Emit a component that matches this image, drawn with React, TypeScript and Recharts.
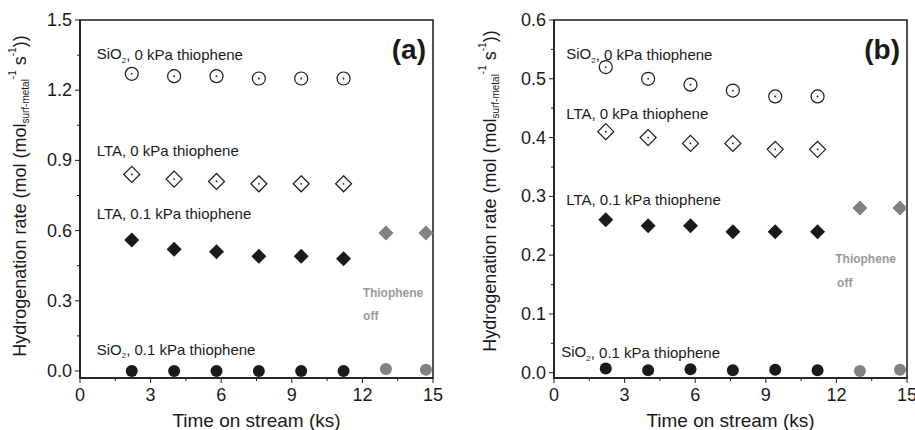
import { ScatterChart, Scatter, XAxis, YAxis, ReferenceArea } from 'recharts';

const FONT = '"Liberation Sans", Arial, sans-serif';
const INK = '#1a1a1a';
const GREY = '#828282';
const NOTE_GREY = '#9a9a9a';

// time on stream (ks)
const timeOn = [2.2, 4.0, 5.8, 7.6, 9.4, 11.2];
const timeOff = [13.0, 14.7];

// panel (a) rates
const aSio2Clean = [1.27, 1.26, 1.26, 1.25, 1.25, 1.25];
const aLtaClean = [0.84, 0.82, 0.81, 0.8, 0.8, 0.8];
const aLtaThio = [0.56, 0.52, 0.51, 0.49, 0.49, 0.48];
const aSio2Thio = [0, 0, 0, 0, 0, 0];
const aLtaOff = [0.59, 0.59];
const aSio2Off = [0.008, 0.005];

// panel (b) rates
const bSio2Clean = [0.52, 0.5, 0.49, 0.48, 0.47, 0.47];
const bLtaClean = [0.41, 0.4, 0.39, 0.39, 0.38, 0.38];
const bLtaThio = [0.26, 0.25, 0.25, 0.24, 0.24, 0.24];
const bSio2Thio = [0.007, 0.004, 0.006, 0.004, 0.005, 0.004];
const bLtaOff = [0.28, 0.28];
const bSio2Off = [0.003, 0.005];

// ticks
const xMajor = [0, 3, 6, 9, 12, 15];
const xMinor = [1.5, 4.5, 7.5, 10.5, 13.5];
const aYMajor = [0, 0.3, 0.6, 0.9, 1.2, 1.5];
const aYMinor = [0.15, 0.45, 0.75, 1.05, 1.35];
const bYMajor = [0, 0.1, 0.2, 0.3, 0.4, 0.5, 0.6];
const bYMinor = [0.05, 0.15, 0.25, 0.35, 0.45, 0.55];

// annotations
const noteText = ['SiO2, 0 kPa thiophene', 'LTA, 0 kPa thiophene', 'LTA, 0.1 kPa thiophene', 'SiO2, 0.1 kPa thiophene', 'Thiophene', 'off'];
const noteKind = ['note', 'note', 'note', 'note', 'off', 'off'];
const aNoteX = [0.71, 0.71, 0.71, 0.71, 12.01, 12.03];
const aNoteY = [1.355, 0.944, 0.675, 0.093, 0.335, 0.236];
const bNoteX = [0.52, 0.52, 0.52, 0.31, 11.95, 12.03];
const bNoteY = [0.543, 0.441, 0.294, 0.036, 0.193, 0.152];

const zip = (xs: number[], ys: number[]) => xs.map((x, i) => ({ x, y: ys[i] }));
const notes = (xs: number[], ys: number[]) =>
  xs.map((x, i) => ({ x, y: ys[i], text: noteText[i], kind: noteKind[i] }));

function OpenCircle({ cx, cy }: any) {
  return (
    <g>
      <circle cx={cx} cy={cy} r={6.5} fill="#fff" stroke={INK} strokeWidth={1.2} />
      <circle cx={cx} cy={cy} r={0.9} fill={INK} />
    </g>
  );
}

function OpenDiamond({ cx, cy }: any) {
  const h = 8;
  return (
    <g>
      <polygon points={`${cx},${cy - h} ${cx + h},${cy} ${cx},${cy + h} ${cx - h},${cy}`} fill="#fff" stroke={INK} strokeWidth={1.2} />
      <circle cx={cx} cy={cy} r={0.9} fill={INK} />
    </g>
  );
}

const diamond = (colour: string) => ({ cx, cy }: any) => {
  const h = 7.5;
  return <polygon points={`${cx},${cy - h} ${cx + h},${cy} ${cx},${cy + h} ${cx - h},${cy}`} fill={colour} />;
};

const dot = (colour: string) => ({ cx, cy }: any) => <circle cx={cx} cy={cy} r={6} fill={colour} />;

function Note({ cx, cy, payload }: any) {
  const { text, kind } = payload;
  if (kind === 'off') {
    return (
      <text x={cx} y={cy} dominantBaseline="central" fontFamily={FONT} fontSize={12} fontWeight="bold" fill={NOTE_GREY}>
        {text}
      </text>
    );
  }
  if (text.startsWith('SiO2')) {
    return (
      <text x={cx} y={cy} dominantBaseline="central" fontFamily={FONT} fontSize={15} fill={INK}>
        SiO<tspan fontSize={8} dy={6}>2</tspan>
        <tspan dy={-6}>{text.slice(4)}</tspan>
      </text>
    );
  }
  return (
    <text x={cx} y={cy} dominantBaseline="central" fontFamily={FONT} fontSize={15} fill={INK}>
      {text}
    </text>
  );
}

const TICK_SIZE = 5;
const TICK_MARGIN = 4;
const near = (list: number[], v: number) => list.some((m) => Math.abs(m - v) < 1e-6);

const xTick = (p: any) => {
  const v = p.payload.value;
  const major = near(xMajor, v);
  const axisY = p.y - TICK_SIZE - TICK_MARGIN;
  return (
    <g>
      <line x1={p.x} x2={p.x} y1={axisY} y2={axisY + (major ? 5 : 3)} stroke={INK} />
      {major && (
        <text x={p.x} y={axisY + 17} textAnchor="middle" dominantBaseline="central" fontFamily={FONT} fontSize={18} fill={INK}>
          {v}
        </text>
      )}
    </g>
  );
};

const yTick = (majors: number[]) => (p: any) => {
  const v = p.payload.value;
  const major = near(majors, v);
  const axisX = p.x + TICK_SIZE + TICK_MARGIN;
  return (
    <g>
      <line x1={axisX - (major ? 5 : 3)} x2={axisX} y1={p.y} y2={p.y} stroke={INK} />
      {major && (
        <text x={axisX - 8} y={p.y} textAnchor="end" dominantBaseline="central" fontFamily={FONT} fontSize={18} fill={INK}>
          {v.toFixed(1)}
        </text>
      )}
    </g>
  );
};

const xTitle = (p: any) => {
  const vb = p.viewBox;
  return (
    <text x={vb.x + vb.width / 2} y={vb.y + 42} textAnchor="middle" dominantBaseline="central" fontFamily={FONT} fontSize={19} fill={INK}>
      Time on stream (ks)
    </text>
  );
};

const yTitle = (cxOff: number, cyOff: number) => (p: any) => {
  const vb = p.viewBox;
  const cx = vb.x + cxOff;
  const cy = vb.y + vb.height / 2 + cyOff;
  return (
    <text x={cx} y={cy} transform={`rotate(-90 ${cx} ${cy})`} textAnchor="middle" dominantBaseline="central" fontFamily={FONT} fontSize={18} fill={INK}>
      Hydrogenation rate (mol (mol
      <tspan fontSize={10} dy={5}>surf-metal</tspan>
      <tspan fontSize={10} dy={-13}>-1</tspan>
      <tspan dy={8}> s</tspan>
      <tspan fontSize={10} dy={-8}>-1</tspan>
      <tspan dy={8}>))</tspan>
    </text>
  );
};

const tag = (label: string) => (p: any) => {
  const vb = p.viewBox;
  return (
    <text x={vb.x + vb.width - 7} y={vb.y + 29} textAnchor="end" dominantBaseline="central" fontFamily={FONT} fontSize={28} fontWeight="bold" fill={INK}>
      {label}
    </text>
  );
};

type PanelProps = {
  width: number;
  yWidth: number;
  right: number;
  yDomain: [number, number];
  yMajor: number[];
  yMinor: number[];
  sio2Clean: number[];
  ltaClean: number[];
  ltaThio: number[];
  sio2Thio: number[];
  ltaOff: number[];
  sio2Off: number[];
  noteX: number[];
  noteY: number[];
  label: string;
  titleX: number;
  titleY: number;
};

function Panel(p: PanelProps) {
  const line = { stroke: INK, strokeWidth: 1.5 };
  return (
    <ScatterChart width={p.width} height={430} margin={{ top: 20, right: p.right, left: 0, bottom: 0 }}>
      <XAxis
        type="number"
        dataKey="x"
        domain={[0, 15]}
        ticks={[...xMajor, ...xMinor].sort((a, b) => a - b)}
        interval={0}
        tick={xTick}
        tickLine={false}
        tickSize={TICK_SIZE}
        tickMargin={TICK_MARGIN}
        axisLine={line}
        height={52}
        allowDataOverflow
        label={{ content: xTitle }}
      />
      <YAxis
        type="number"
        dataKey="y"
        domain={p.yDomain}
        ticks={[...p.yMajor, ...p.yMinor].sort((a, b) => a - b)}
        interval={0}
        tick={yTick(p.yMajor)}
        tickLine={false}
        tickSize={TICK_SIZE}
        tickMargin={TICK_MARGIN}
        axisLine={line}
        width={p.yWidth}
        allowDataOverflow
        label={{ content: yTitle(p.titleX, p.titleY) }}
      />
      <ReferenceArea
        x1={0}
        x2={15}
        y1={p.yDomain[0]}
        y2={p.yDomain[1]}
        fill="none"
        stroke={INK}
        strokeWidth={1.5}
        fillOpacity={0}
        label={{ content: tag(p.label) }}
      />
      <Scatter data={zip(timeOn, p.sio2Clean)} shape={OpenCircle} isAnimationActive={false} />
      <Scatter data={zip(timeOn, p.ltaClean)} shape={OpenDiamond} isAnimationActive={false} />
      <Scatter data={zip(timeOn, p.ltaThio)} shape={diamond(INK)} isAnimationActive={false} />
      <Scatter data={zip(timeOn, p.sio2Thio)} shape={dot(INK)} isAnimationActive={false} />
      <Scatter data={zip(timeOff, p.ltaOff)} shape={diamond(GREY)} isAnimationActive={false} />
      <Scatter data={zip(timeOff, p.sio2Off)} shape={dot(GREY)} isAnimationActive={false} />
      <Scatter data={notes(p.noteX, p.noteY)} shape={Note} isAnimationActive={false} />
    </ScatterChart>
  );
}

export default function App() {
  return (
    <div style={{ position: 'absolute', left: 0, top: 0, width: 915, height: 430, background: '#fff' }}>
      <div style={{ position: 'absolute', left: 0, top: 0 }}>
        <Panel
          width={457}
          yWidth={80}
          right={24}
          yDomain={[-0.03, 1.5]}
          yMajor={aYMajor}
          yMinor={aYMinor}
          sio2Clean={aSio2Clean}
          ltaClean={aLtaClean}
          ltaThio={aLtaThio}
          sio2Thio={aSio2Thio}
          ltaOff={aLtaOff}
          sio2Off={aSio2Off}
          noteX={aNoteX}
          noteY={aNoteY}
          label="(a)"
          titleX={20}
          titleY={-3}
        />
      </div>
      <div style={{ position: 'absolute', left: 457, top: 0 }}>
        <Panel
          width={458}
          yWidth={97}
          right={8}
          yDomain={[-0.009, 0.6]}
          yMajor={bYMajor}
          yMinor={bYMinor}
          sio2Clean={bSio2Clean}
          ltaClean={bLtaClean}
          ltaThio={bLtaThio}
          sio2Thio={bSio2Thio}
          ltaOff={bLtaOff}
          sio2Off={bSio2Off}
          noteX={bNoteX}
          noteY={bNoteY}
          label="(b)"
          titleX={33}
          titleY={-8}
        />
      </div>
    </div>
  );
}
